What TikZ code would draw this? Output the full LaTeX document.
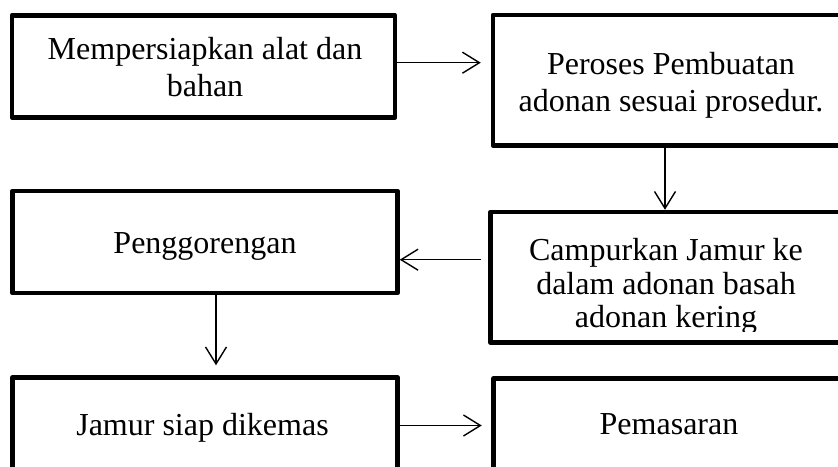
\documentclass[tikz,border=0pt]{standalone}
\usepackage{fontspec}
\setmainfont{Liberation Serif}
\usetikzlibrary{arrows.meta}
\begin{document}
\begin{tikzpicture}[x=1pt,y=-1pt,
  box/.style={draw, line width=4.5pt, line join=round, inner sep=0pt},
  lbl/.style={inner sep=0pt, align=center, font=\fontsize{32}{37}\selectfont},
  arr/.style={line width=1.4pt, -{Straight Barb[length=17pt,width=21pt,line width=1.4pt]}}]
\useasboundingbox (0,0) rectangle (838,466);
\clip (0,0) rectangle (838,466);
% boxes
\node[box, minimum width=383pt, minimum height=102.2pt] (b1) at (203.5,66.4) {};
\node[box, minimum width=355pt, minimum height=130.5pt] (b2) at (670.5,80.25) {};
\node[box, minimum width=353.5pt, minimum height=130.5pt] (b3) at (667.25,277.25) {};
\node[box, minimum width=385pt, minimum height=102pt] (b4) at (205,242) {};
\node[box, minimum width=385pt, minimum height=94.5pt] (b5) at (205,424.75) {};
\node[box, minimum width=352.5pt, minimum height=93.5pt] (b6) at (669.75,425.25) {};
% texts
\node[lbl] (t1) at (205,67.4) {Mempersiapkan alat dan\\bahan};
\node[lbl] (t2) at (671,85) {Peroses Pembuatan\\adonan sesuai prosedur.};
\begin{scope}
\clip (480,200) rectangle (850,331.5);
\node[lbl, font=\fontsize{32}{33.5}\selectfont] (t3) at (666,286.7) {Campurkan Jamur ke\\dalam adonan basah\\adonan kering};
\end{scope}
\node[lbl] (t4) at (205,246.9) {Penggorengan};
\node[lbl] (t5) at (202.5,427.5) {Jamur siap dikemas};
\node[lbl] (t6) at (669,424.4) {Pemasaran};
% arrows
\draw[arr, shorten >=10pt] (b1.east |- 0,62.7) -- (b2.west |- 0,62.7);
\draw[arr] (b2.south -| 665,0) -- (b3.north -| 665,0);
\draw[arr, shorten <=7pt] (b3.west |- 0,259.7) -- (b4.east |- 0,259.7);
\draw[arr, shorten >=10pt] (b4.south -| 216,0) -- (b5.north -| 216,0);
\draw[arr, shorten >=9.5pt] (b5.east |- 0,425.5) -- (b6.west |- 0,425.5);
\end{tikzpicture}
\end{document}
